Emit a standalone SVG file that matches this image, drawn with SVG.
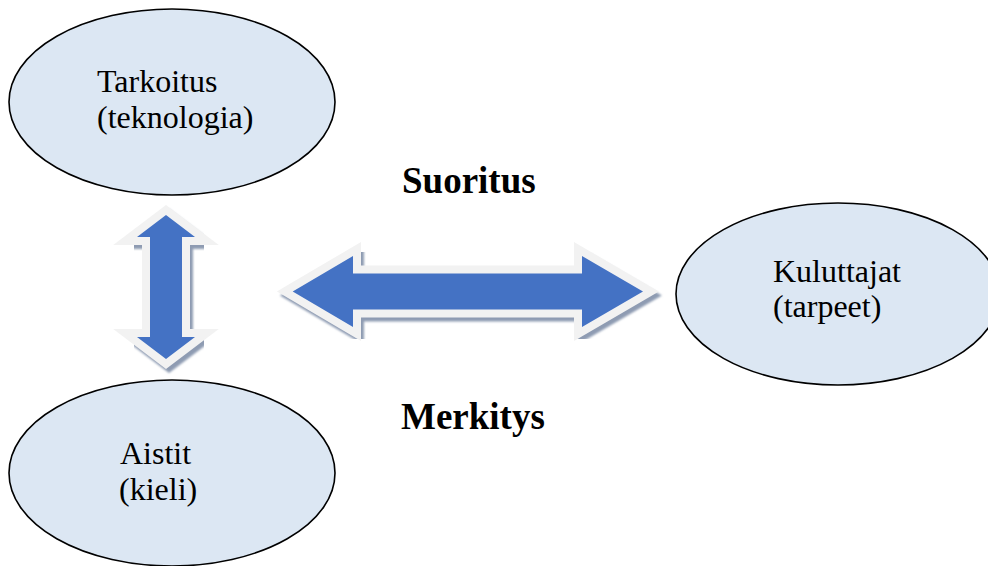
<svg xmlns="http://www.w3.org/2000/svg" width="988" height="566" viewBox="0 0 988 566">
  <style>
    .node { fill: #dce7f3; stroke: #000; stroke-width: 1.6; }
    .lbl { font-family: "Liberation Serif", "Times New Roman", serif; font-size: 32px; fill: #000; }
    .title { font-family: "Liberation Serif", "Times New Roman", serif; font-size: 37px; font-weight: bold; fill: #000; }
    .shadow { fill: #8e9bb2; stroke: #8e9bb2; stroke-width: 16; stroke-linejoin: miter; }
    .rim { fill: #f2f2f2; stroke: #f2f2f2; stroke-width: 16; stroke-linejoin: miter; }
    .body { fill: #4472c4; }
  </style>
  <defs>
    <filter id="soft" x="-10%" y="-10%" width="120%" height="120%">
      <feGaussianBlur stdDeviation="1"/>
    </filter>
    <path id="arrowV" d="M166,215 L195,237 L182,237 L182,337 L195,337 L166,359 L137,337 L150,337 L150,237 L137,237 Z"/>
    <path id="arrowH" d="M292.7,291.5 L353,256 L353,273.5 L582,273.5 L582,256 L643,291.5 L582,327 L582,309.5 L353,309.5 L353,327 Z"/>
  </defs>

  <!-- double-headed block arrows -->
  <g id="connectors">
    <g id="link-vertical">
      <use href="#arrowV" class="shadow" transform="translate(3,4)" filter="url(#soft)"/>
      <use href="#arrowV" class="rim"/>
      <use href="#arrowV" class="body"/>
    </g>
    <g id="link-horizontal">
      <use href="#arrowH" class="shadow" transform="translate(3,4)" filter="url(#soft)"/>
      <use href="#arrowH" class="rim"/>
      <use href="#arrowH" class="body"/>
    </g>
  </g>

  <g id="tarkoitus">
    <ellipse class="node" cx="172" cy="102" rx="163" ry="93"/>
    <text class="lbl" x="97" y="92">Tarkoitus</text>
    <text class="lbl" x="97" y="128">(teknologia)</text>
  </g>

  <g id="aistit">
    <ellipse class="node" cx="172" cy="473" rx="163" ry="93"/>
    <text class="lbl" x="120" y="464">Aistit</text>
    <text class="lbl" x="119" y="500">(kieli)</text>
  </g>

  <g id="kuluttajat">
    <ellipse class="node" cx="838" cy="294" rx="162" ry="91"/>
    <text class="lbl" x="773" y="282">Kuluttajat</text>
    <text class="lbl" x="773" y="317">(tarpeet)</text>
  </g>

  <g id="labels">
    <text class="title" x="402" y="193">Suoritus</text>
    <text class="title" x="401" y="429">Merkitys</text>
  </g>
</svg>
